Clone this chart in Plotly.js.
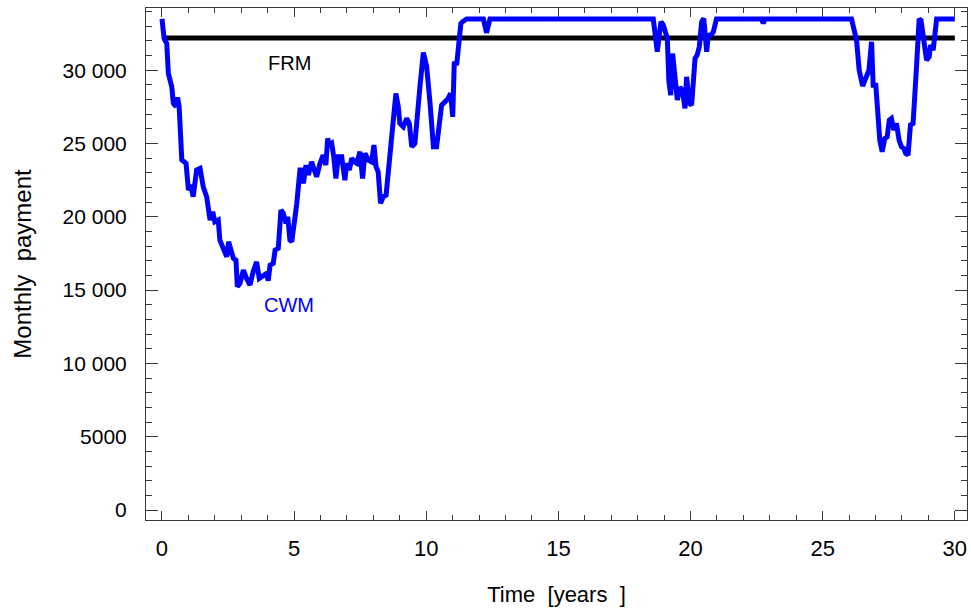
<!DOCTYPE html>
<html>
<head>
<meta charset="utf-8">
<script src="https://cdn.plot.ly/plotly-3.0.1.min.js"></script>
<style>html,body{margin:0;padding:0;background:#fff;}#chart{width:971px;height:611px;}</style>
</head>
<body>
<div id="chart"></div>
<script>
// ---- Data ----
const frmTime = [0, 30];
const frmPayment = [32200, 32200];

const cwmTime = [
  0, 0.08, 0.18, 0.24, 0.37, 0.43, 0.53, 0.59, 0.65, 0.75, 0.91, 1.0, 1.09, 1.18, 1.31, 1.44, 1.56, 1.69, 1.82, 1.92,
  2.0, 2.13, 2.19, 2.35, 2.45, 2.52, 2.64, 2.7, 2.8, 2.85, 2.95, 3.08, 3.2, 3.33, 3.45, 3.58, 3.68, 3.83, 3.96, 4.02,
  4.09, 4.21, 4.28, 4.4, 4.5, 4.59, 4.69, 4.76, 4.84, 4.91, 5.0, 5.05, 5.1, 5.16, 5.22, 5.29, 5.35, 5.45, 5.54, 5.66,
  5.75, 5.85, 5.98, 6.1, 6.2, 6.27, 6.33, 6.42, 6.5, 6.58, 6.67, 6.8, 6.92, 6.99, 7.09, 7.18, 7.28, 7.37, 7.49, 7.59,
  7.68, 7.81, 7.93, 8.02, 8.1, 8.18, 8.27, 8.37, 8.48, 8.63, 8.75, 8.85, 8.94, 9.0, 9.13, 9.26, 9.36, 9.45, 9.57, 9.64,
  9.76, 9.89, 10.01, 10.14, 10.27, 10.39, 10.51, 10.58, 10.71, 10.83, 10.92, 11.0, 11.06, 11.15, 11.25, 11.31, 11.4, 11.53,
  12.16, 12.28, 12.41, 18.59, 18.74, 18.88, 18.97, 19.12, 19.18, 19.25, 19.32, 19.41, 19.5, 19.6, 19.69, 19.79, 19.85, 19.95,
  20.04, 20.17, 20.25, 20.33, 20.42, 20.5, 20.61, 20.67, 20.76, 20.86, 20.98, 22.69, 22.75, 22.81, 26.09, 26.28, 26.38, 26.51,
  26.66, 26.75, 26.85, 26.91, 27.01, 27.16, 27.25, 27.35, 27.44, 27.52, 27.6, 27.69, 27.79, 27.89, 27.98, 28.07, 28.14, 28.23,
  28.32, 28.42, 28.55, 28.65, 28.72, 28.83, 28.93, 29.03, 29.08, 29.18, 29.31, 30.0
];
const cwmPayment = [
  33500, 32170, 31830, 29780, 28870, 27740, 27510, 28150, 27500, 23870, 23650, 21820, 22170, 21370, 23190, 23300, 22050, 21370, 19780, 20350,
  19660, 19780, 18410, 17620, 17280, 18300, 17510, 17170, 17050, 15230, 15460, 16370, 15800, 15350, 16250, 16930, 15800, 16030, 16140, 15640,
  16710, 16820, 17730, 17850, 20460, 20230, 19550, 20000, 18410, 18300, 19210, 20200, 20920, 22560, 23190, 23190, 22280, 23530, 22850, 23750,
  23300, 22730, 23650, 24210, 23530, 25350, 24890, 25010, 24100, 22620, 24100, 24100, 22500, 23650, 23190, 23990, 23750, 23650, 24440, 22620,
  24330, 23870, 23750, 24890, 23410, 23070, 20920, 21370, 21480, 24550, 26600, 28420, 27510, 26370, 26140, 26710, 26370, 24780, 25010, 26600,
  28870, 31200, 30300, 27810, 24780, 24780, 27050, 27620, 27850, 28080, 28420, 26820, 30570, 30350, 32170, 33190, 33350, 33500,
  33500, 32550, 33500, 33500, 31260, 33300, 33080, 32170, 29210, 28300, 31140, 28980, 27960, 28830, 28640, 27400, 29550, 27740,
  27620, 30810, 31030, 31600, 33300, 33530, 31260, 32390, 32390, 32600, 33500, 33500, 33190, 33500, 33500, 32050, 30010, 28920,
  29670, 30010, 31940, 28980, 28980, 25230, 24440, 25350, 25460, 26600, 26710, 25920, 26370, 25230, 24780, 24670, 24330, 24210,
  26260, 26370, 30230, 33500, 33400, 31940, 30690, 30920, 31710, 31370, 33500, 33500
];

const xTickVals = [0, 5, 10, 15, 20, 25, 30];
const xTickText = ['0', '5', '10', '15', '20', '25', '30'];
const yTickVals = [0, 5000, 10000, 15000, 20000, 25000, 30000];
const yTickText = ['0', '5000', '10 000', '15 000', '20 000', '25 000', '30 000'];

// ---- Chart ----
const FONT = 'Liberation Sans, Arial, sans-serif';
const frameColor = '#3a3a3a';

const traces = [
  {
    x: frmTime, y: frmPayment, type: 'scatter', mode: 'lines', name: 'FRM',
    line: {color: '#000000', width: 5}, hoverinfo: 'skip'
  },
  {
    x: cwmTime, y: cwmPayment, type: 'scatter', mode: 'lines', name: 'CWM',
    line: {color: '#0000ff', width: 5, shape: 'linear'}, hoverinfo: 'skip'
  }
];

const layout = {
  width: 971, height: 611,
  margin: {l: 146, r: 4, t: 8, b: 91},
  paper_bgcolor: '#ffffff', plot_bgcolor: '#ffffff',
  showlegend: false,
  font: {family: FONT, color: '#000000', size: 20},
  xaxis: {
    range: [-0.605, 30.46],
    tickmode: 'array', tickvals: xTickVals, ticktext: xTickText,
    ticks: 'inside', ticklen: 9, tickwidth: 1, tickcolor: frameColor,
    minor: {dtick: 1, tick0: 0, ticks: 'inside', ticklen: 5, tickwidth: 1, tickcolor: frameColor, showgrid: false},
    showline: true, linecolor: frameColor, linewidth: 1, mirror: 'allticks',
    showgrid: false, zeroline: false,
    tickfont: {family: 'Liberation Sans Narrow, ' + FONT, size: 22, color: '#000'},
    ticklabelstandoff: 9,
    title: {text: 'Time\u00a0\u00a0[years\u00a0\u00a0]', font: {family: FONT, size: 22, color: '#000'}, standoff: 26}
  },
  yaxis: {
    range: [-682, 34243],
    tickmode: 'array', tickvals: yTickVals, ticktext: yTickText,
    ticks: 'inside', ticklen: 12, tickwidth: 1, tickcolor: frameColor,
    minor: {dtick: 1000, tick0: 0, ticks: 'inside', ticklen: 6, tickwidth: 1, tickcolor: frameColor, showgrid: false},
    showline: true, linecolor: frameColor, linewidth: 1, mirror: 'allticks',
    showgrid: false, zeroline: false,
    tickfont: {family: FONT, size: 21, color: '#000'},
    ticklabelstandoff: 14,
    title: {text: 'Monthly\u00a0\u00a0payment', font: {family: FONT, size: 24, color: '#000'}, standoff: 24}
  },
  annotations: [
    {x: 4.84, y: 30480, xref: 'x', yref: 'y', text: 'FRM', showarrow: false,
     font: {family: FONT, size: 20, color: '#000000'}},
    {x: 4.8, y: 13980, xref: 'x', yref: 'y', text: 'CWM', showarrow: false,
     font: {family: FONT, size: 20, color: '#0000ff'}}
  ]
};

Plotly.newPlot('chart', traces, layout, {staticPlot: true, displayModeBar: false});
</script>
</body>
</html>
